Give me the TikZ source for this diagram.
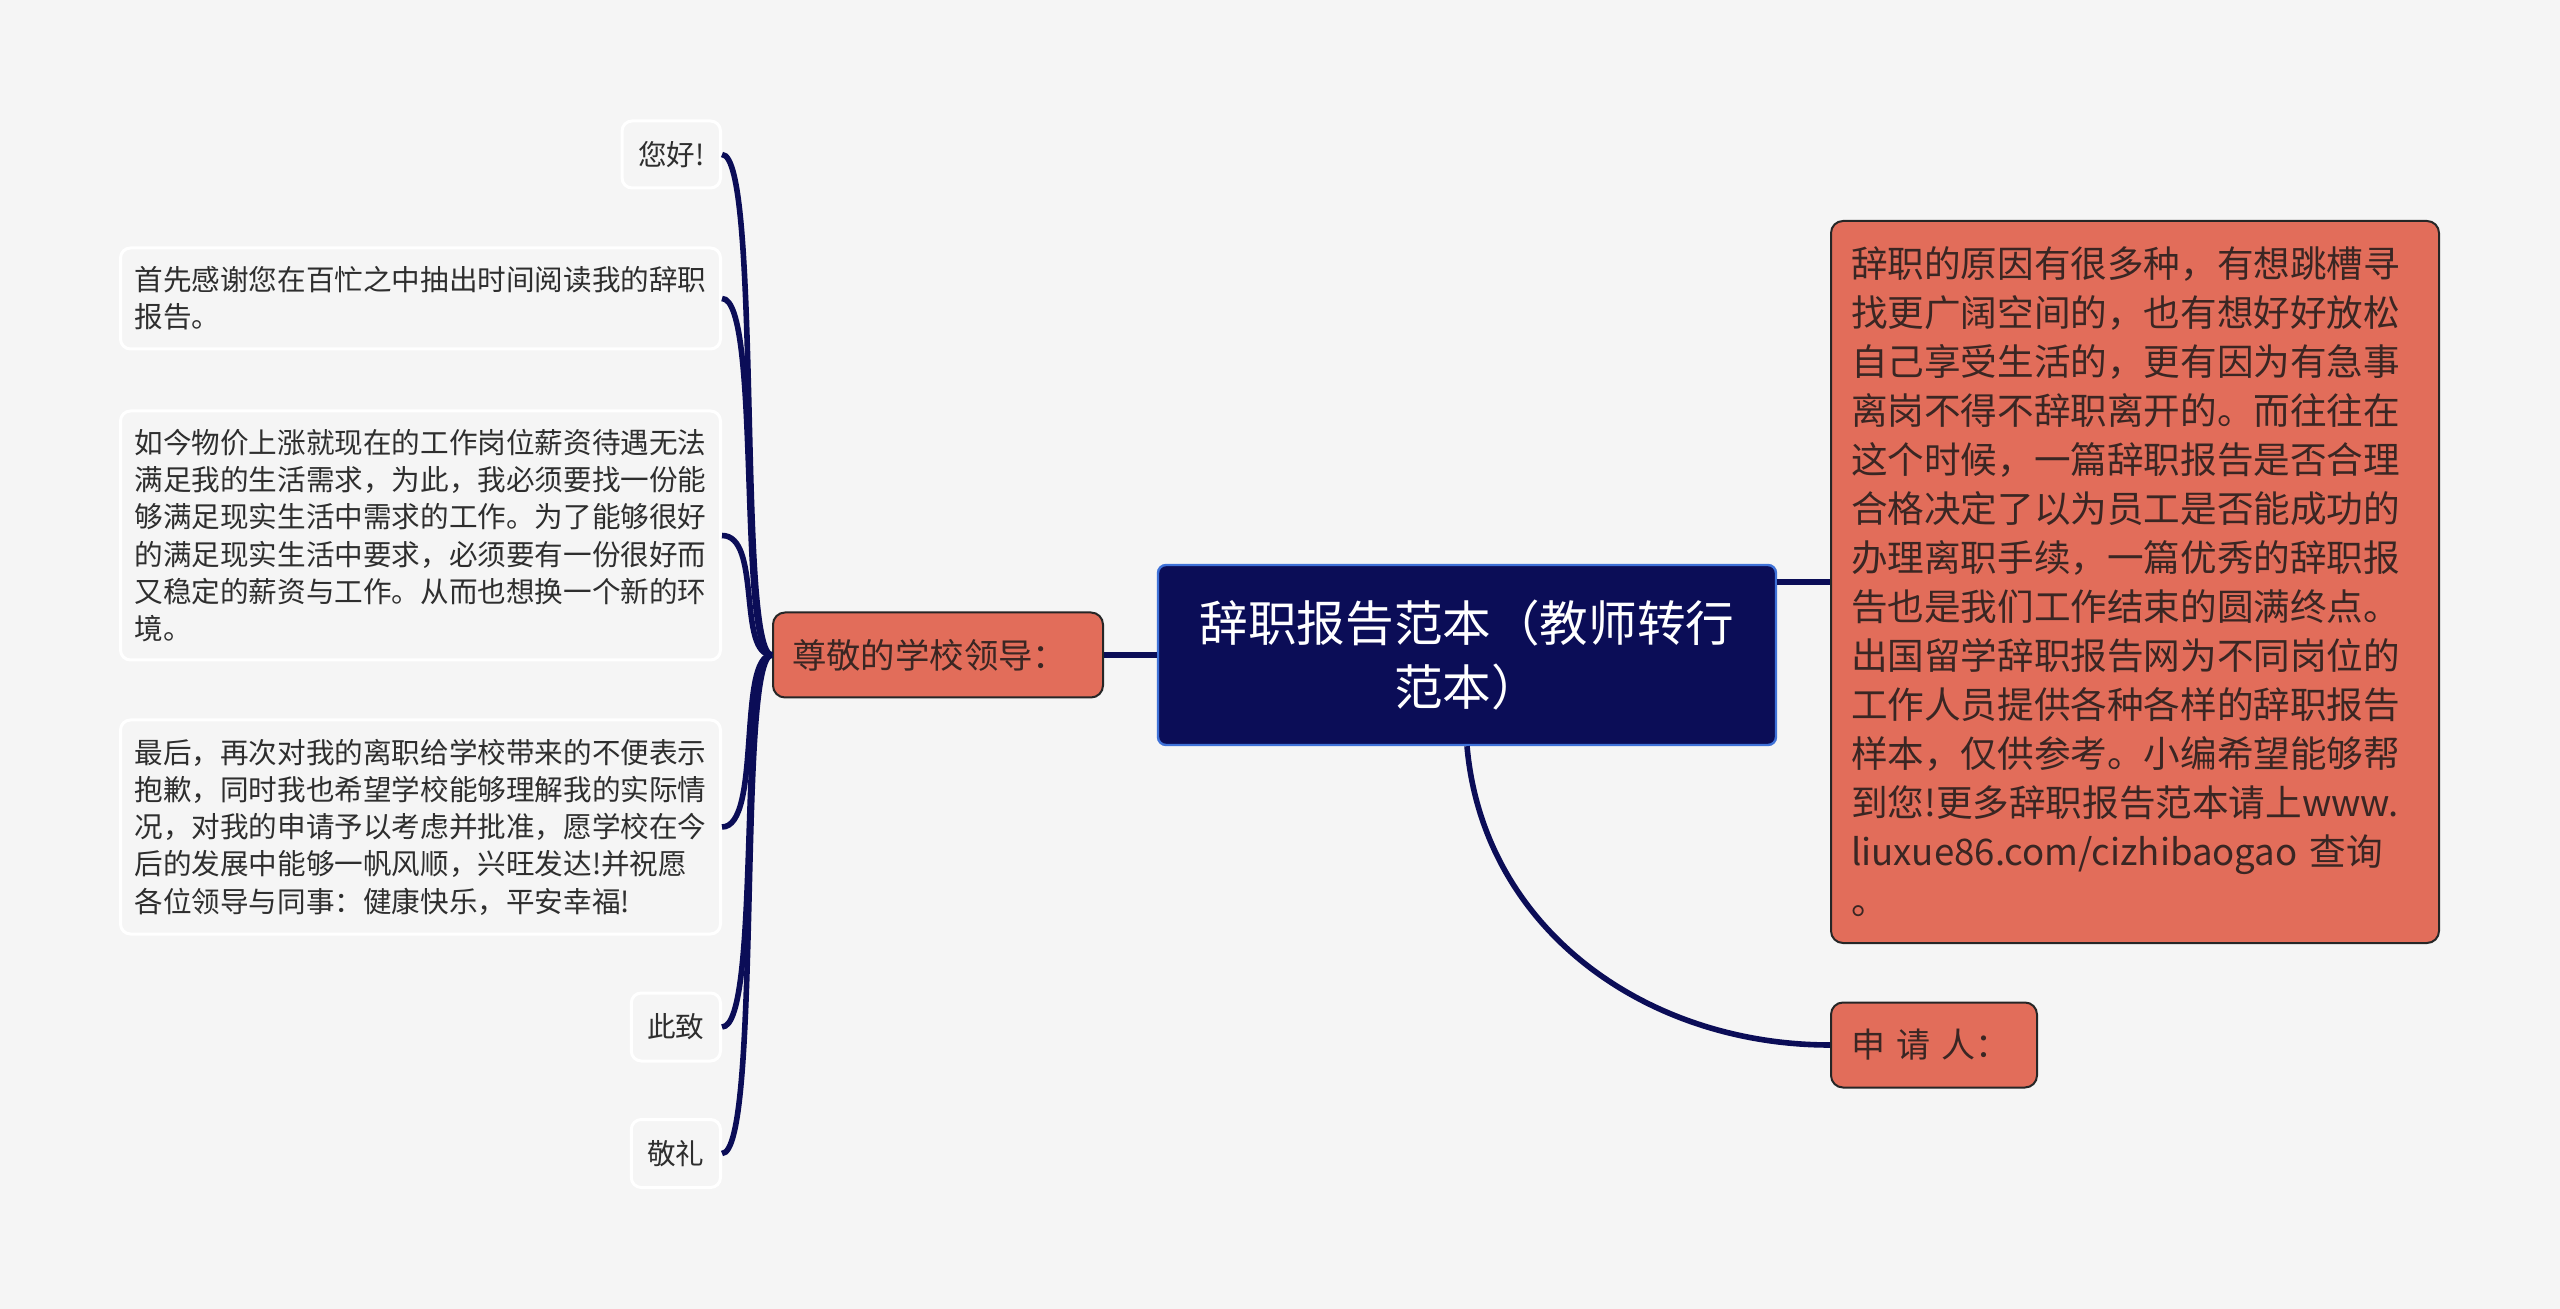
\documentclass[tikz,border=0pt]{standalone}
\usepackage{fontspec}
\newfontfamily\cjk{Noto Sans CJK SC}
\definecolor{pagebg}{HTML}{F5F5F5}
\definecolor{navy}{HTML}{0B0D57}
\definecolor{coral}{HTML}{E26D5A}
\definecolor{rootedge}{HTML}{3F72D8}
\definecolor{inkdark}{HTML}{3A2623}
\definecolor{leafink}{HTML}{2E2E2E}
\begin{document}
\begin{tikzpicture}[x=0.5pt,y=-0.5pt,
    rootbox/.style={rectangle,rounded corners=4pt,fill=navy,draw=rootedge,line width=1.2pt,
        text=white,align=center,minimum width=309pt,minimum height=90pt,inner sep=0pt,
        font=\cjk\fontsize{24.3pt}{31.8pt}\selectfont},
    topicbox/.style={rectangle,rounded corners=6pt,fill=coral,draw=black!85,line width=1pt,
        text=inkdark,align=left,inner xsep=10pt},
    leafbox/.style={rectangle,rounded corners=5pt,fill=pagebg,draw=white,line width=1.5pt,
        text=leafink,align=left,inner xsep=8pt,inner ysep=6.5pt,
        font=\cjk\fontsize{14.3pt}{18.6pt}\selectfont},
    link/.style={draw=navy,line width=2.8pt}]
    %% Background and margins
    \fill[pagebg] (0,0) rectangle (2560,1309);
    \useasboundingbox (0,0) rectangle (2560,1309);
    %% Root
    \node[rootbox] (root) at (1467,655) {辞职报告范本（教师转行\\范本）};
    %% Right side
    \node[topicbox,anchor=north west,text width=284pt,minimum height=361pt,inner ysep=8pt,
        font=\cjk\fontsize{18.3pt}{24.5pt}\selectfont] (reason) at (1830,220)
        {辞职的原因有很多种，有想跳槽寻\\找更广阔空间的，也有想好好放松\\自己享受生活的，更有因为有急事\\离岗不得不辞职离开的。而往往在\\这个时候，一篇辞职报告是否合理\\合格决定了以为员工是否能成功的\\办理离职手续，一篇优秀的辞职报\\告也是我们工作结束的圆满终点。\\出国留学辞职报告网为不同岗位的\\工作人员提供各种各样的辞职报告\\样本，仅供参考。小编希望能够帮\\到您!更多辞职报告范本请上www.\\liuxue86.com/cizhibaogao 查询\\。};
    \node[topicbox,anchor=west,text width=83pt,minimum height=42.5pt,
        font=\cjk\fontsize{17pt}{20pt}\selectfont] (apply) at (1830,1045) {申 请 人：};
    %% Left side
    \node[topicbox,anchor=east,text width=146pt,inner xsep=9.5pt,minimum height=42.5pt,
        font=\cjk\fontsize{17.2pt}{20pt}\selectfont] (lead) at (1104,655) {尊敬的学校领导：};
    \node[leafbox,anchor=east,minimum height=33.5pt] (hello) at (722,154.5) {您好!};
    \node[leafbox,anchor=east,text width=286pt,inner xsep=7pt,minimum height=50.5pt] (thanks) at (722,298.5)
        {首先感谢您在百忙之中抽出时间阅读我的辞职\\报告。};
    \node[leafbox,anchor=east,text width=286pt,inner xsep=7pt,minimum height=124.5pt] (price) at (722,535.5)
        {如今物价上涨就现在的工作岗位薪资待遇无法\\满足我的生活需求，为此，我必须要找一份能\\够满足现实生活中需求的工作。为了能够很好\\的满足现实生活中要求，必须要有一份很好而\\又稳定的薪资与工作。从而也想换一个新的环\\境。};
    \node[leafbox,anchor=east,text width=286pt,inner xsep=7pt,minimum height=107pt] (finally) at (722,827)
        {最后，再次对我的离职给学校带来的不便表示\\抱歉，同时我也希望学校能够理解我的实际情\\况，对我的申请予以考虑并批准，愿学校在今\\后的发展中能够一帆风顺，兴旺发达!并祝愿\\各位领导与同事：健康快乐，平安幸福!};
    \node[leafbox,anchor=east,minimum height=34pt] (cizhi) at (722,1027) {此致};
    \node[leafbox,anchor=east,minimum height=34pt] (jingli) at (722,1153.5) {敬礼};
    %% Connectors
    \draw[link] (root.west) -- (lead.east);
    \draw[link] (reason.west) -- (reason.west -| root.east);
    \draw[link] (root.south) to[out=-85,in=180] (apply.west);
    \foreach \leaf in {hello,thanks,price,finally,cizhi,jingli}
        \draw[link] (lead.west) .. controls +(-35,0) and +(40,0) .. (\leaf.east);
\end{tikzpicture}
\end{document}
